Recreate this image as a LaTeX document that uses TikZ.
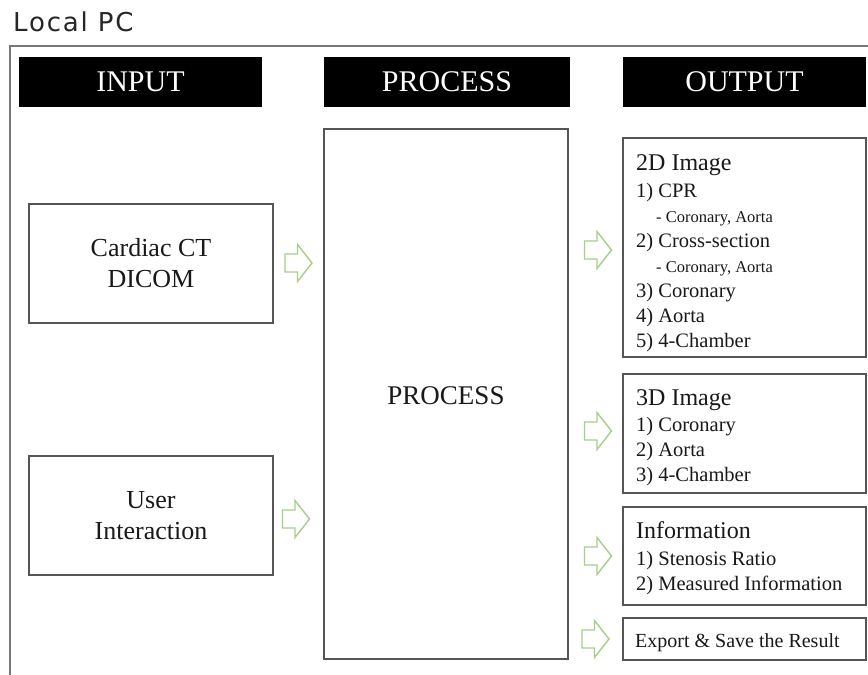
\documentclass[tikz,border=0pt]{standalone}
\usepackage{fontspec}
\setmainfont{Liberation Serif}
\newfontfamily\lpcfont[LetterSpace=7]{DejaVu Sans}
\definecolor{arrowgreen}{RGB}{165,207,137}
\definecolor{boxgray}{RGB}{85,85,85}
\definecolor{framegray}{RGB}{120,120,120}
\definecolor{txt}{RGB}{25,25,25}
\newcommand{\fsz}[2]{\fontsize{#1}{#2}\selectfont}
\begin{document}
\begin{tikzpicture}[x=1pt,y=-1pt,
  box/.style={draw=boxgray, line width=1.3pt, fill=white, inner sep=0pt},
  header/.style={fill=black, text=white, inner sep=0pt, font=\fsz{30}{36}},
  ln/.style={anchor=base west, inner sep=0pt, text=txt},
  ttl/.style={ln, font=\fsz{24}{28}},
  itm/.style={ln, font=\fsz{20.5}{24}},
  sub/.style={ln, font=\fsz{16.5}{20}},
  garrow/.pic={\draw[arrowgreen, line width=1.4pt, line join=miter] (-13.5,-9)--(-1,-9)--(-1,-18.5)--(13.5,0)--(-1,18.5)--(-1,9)--(-13.5,9)--cycle;}
]
\useasboundingbox (0,0) rectangle (868,675);
% frame
\coordinate (ftr) at (868,46);
\coordinate (ftl) at (10,46);
\coordinate (fbl) at (10,675);
\draw[framegray, line width=1.5pt] (ftr) -- (ftl) -- (fbl);
\node[anchor=base west, inner sep=0pt, text=black!85, font=\lpcfont\fsz{26}{30}] (localpc) at (13,31) {Local PC};
% headers
\node[header, minimum width=243, minimum height=50] (hin) at (140.5,82) {INPUT};
\node[header, minimum width=246, minimum height=50] (hproc) at (447,82) {PROCESS};
\node[header, minimum width=243, minimum height=50] (hout) at (744.5,82) {OUTPUT};
% input boxes
\node[box, minimum width=244, minimum height=119, align=center, font=\fsz{26}{31}, text=txt] (cardiac) at (151,263.5) {Cardiac CT\\DICOM};
\node[box, minimum width=244, minimum height=119, align=center, font=\fsz{26}{31}, text=txt] (user) at (151,515.5) {User\\Interaction};
% process
\node[box, minimum width=244, minimum height=530] (proc) at (446,394) {};
\node[anchor=base, inner sep=0pt, text=txt, font=\fsz{27}{32}] (proctext) at (446,404) {PROCESS};
% output boxes
\node[box, minimum width=243, minimum height=219] (o2d) at (744.5,247.5) {};
\node[box, minimum width=243, minimum height=119] (o3d) at (744.5,433.5) {};
\node[box, minimum width=243, minimum height=98] (oinfo) at (744.5,556) {};
\node[box, minimum width=243, minimum height=42] (oexp) at (744.5,639) {};
% 2D text
\node[ttl] (t2d) at (636,170) {2D Image};
\node[itm] (t2d1) at (636,197) {1) CPR};
\node[sub] (t2d1a) at (656,222) {- Coronary, Aorta};
\node[itm] (t2d2) at (636,247) {2) Cross-section};
\node[sub] (t2d2a) at (656,272) {- Coronary, Aorta};
\node[itm] (t2d3) at (636,297) {3) Coronary};
\node[itm] (t2d4) at (636,322) {4) Aorta};
\node[itm] (t2d5) at (636,347) {5) 4-Chamber};
% 3D text
\node[ttl] (t3d) at (636,405) {3D Image};
\node[itm] (t3d1) at (636,431) {1) Coronary};
\node[itm] (t3d2) at (636,456) {2) Aorta};
\node[itm] (t3d3) at (636,481) {3) 4-Chamber};
% info text
\node[ttl] (tinf) at (636,538) {Information};
\node[itm] (tinf1) at (636,565) {1) Stenosis Ratio};
\node[itm] (tinf2) at (636,590) {2) Measured Information};
% export
\node[itm, font=\fsz{20}{24}] (texp) at (635,647) {Export \& Save the Result};
% arrows
\pic (a1) at (298.5,263) {garrow};
\pic (a2) at (296,519) {garrow};
\pic (a3) at (598,250) {garrow};
\pic (a4) at (598,431) {garrow};
\pic (a5) at (598,556) {garrow};
\pic (a6) at (595.5,639) {garrow};
\end{tikzpicture}
\end{document}
